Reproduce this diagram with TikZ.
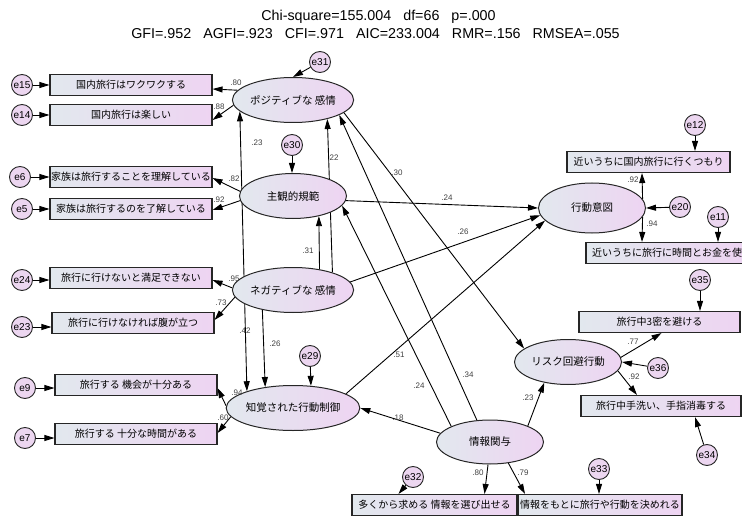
\documentclass[tikz,border=0pt]{standalone}
\usepackage{fontspec}
\setmainfont{Liberation Sans}
\newfontfamily\jp{Noto Sans CJK JP}
\usetikzlibrary{shapes.geometric,arrows.meta,calc}
\pgfdeclarelayer{bg}
\pgfsetlayers{bg,main}
\definecolor{lft}{RGB}{226,232,238}
\definecolor{rgt}{RGB}{238,212,242}
\definecolor{epink}{RGB}{236,214,240}
\tikzset{
 obs/.style={draw=black!85, line width=1.1pt, rectangle, minimum width=162pt, minimum height=21pt, inner sep=0pt, left color=lft, right color=rgt, font=\jp\fontsize{10}{12}\selectfont},
 lat/.style={draw=black!85, line width=1pt, ellipse, minimum width=107pt, minimum height=45pt, inner sep=0pt, left color=lft, right color=rgt, font=\jp\fontsize{10.5}{12}\selectfont},
 err/.style={draw=black!85, line width=0.9pt, circle, minimum size=21pt, inner sep=0pt, fill=epink, font=\fontsize{10}{11}\selectfont},
 arr/.style={-{Triangle[length=10pt,width=6pt]}, line width=0.9pt, black},
 darr/.style={{Triangle[length=10pt,width=6pt]}-{Triangle[length=10pt,width=6pt]}, line width=0.9pt, black},
 coef/.style={font=\fontsize{8}{9}\selectfont, text=black!75, inner sep=0pt},
 ttl/.style={font=\fontsize{14.3}{16}\selectfont, inner sep=0pt},
}
\newcommand{\tgap}{\hspace{12pt}}
\begin{document}
\begin{tikzpicture}[x=1pt,y=-1pt]
\useasboundingbox (0,0) rectangle (742,516);
\clip (0,0) rectangle (742,516);
% title
\node[ttl] (t1) at (378.5,16.5) {Chi-square=155.004\tgap df=66\tgap p=.000};
\node[ttl] (t2) at (375.5,34) {GFI=.952\tgap AGFI=.923\tgap CFI=.971\tgap AIC=233.004\tgap RMR=.156\tgap RMSEA=.055};
% latent
\node[lat] (Pos) at (293,100) {ポジティブな 感情};
\node[lat] (Subj) at (293,196) {主観的規範};
\node[lat] (Neg) at (293,290) {ネガティブな 感情};
\node[lat] (PBC) at (293,408) {知覚された行動制御};
\node[lat, minimum height=50pt] (BI) at (592,208) {行動意図};
\node[lat] (Risk) at (568,362) {リスク回避行動};
\node[lat, minimum height=44pt] (Info) at (490,442) {情報関与};
% observed
\node[obs] (o1) at (131,85) {国内旅行はワクワクする};
\node[obs] (o2) at (131,115) {国内旅行は楽しい};
\node[obs] (o3) at (131,177) {家族は旅行することを理解している};
\node[obs] (o4) at (131,209) {家族は旅行するのを了解している};
\node[obs] (o5) at (131,278) {旅行に行けないと満足できない};
\node[obs] (o6) at (133,323) {旅行に行けなければ腹が立つ};
\node[obs] (o7) at (136,385) {旅行する 機会が十分ある};
\node[obs] (o8) at (136,434) {旅行する 十分な時間がある};
\node[obs, minimum width=165pt] (o9) at (434.5,505) {多くから求める 情報を選び出せる};
\node[obs, minimum width=164pt] (o10) at (600,505) {情報をもとに旅行や行動を決めれる};
\node[obs, minimum width=160pt] (o11) at (661,406) {旅行中手洗い、手指消毒する};
\node[obs, minimum width=161pt] (o12) at (659.5,322) {旅行中3密を避ける};
\node[obs, minimum width=163pt] (o13) at (648.5,162) {近いうちに国内旅行に行くつもり};
\node[obs] (o14) at (667,253) {近いうちに旅行に時間とお金を使};
% errors
\node[err] (e31) at (320,62) {e31};
\node[err] (e15) at (22,85) {e15};
\node[err] (e14) at (22,115) {e14};
\node[err] (e30) at (292,145) {e30};
\node[err] (e6) at (20,177) {e6};
\node[err] (e5) at (22,209) {e5};
\node[err] (e24) at (22,280) {e24};
\node[err] (e23) at (22,327) {e23};
\node[err] (e29) at (310,356) {e29};
\node[err] (e9) at (25,388) {e9};
\node[err] (e7) at (25,438) {e7};
\node[err] (e32) at (413,477) {e32};
\node[err] (e33) at (599,469) {e33};
\node[err] (e34) at (707,455) {e34};
\node[err] (e36) at (658,368) {e36};
\node[err] (e35) at (700,280) {e35};
\node[err] (e20) at (680,207) {e20};
\node[err] (e12) at (695,125) {e12};
\node[err] (e11) at (718,217) {e11};
\begin{pgfonlayer}{bg}
% error arrows
\draw[arr] (e31) -- (Pos.north);
\draw[arr] (e15) -- (o1);
\draw[arr] (e14) -- (o2);
\draw[arr] (e6) -- (o3);
\draw[arr] (e5) -- (o4);
\draw[arr] (e24) -- (e24 -| o5.west);
\draw[arr] (e23) -- (e23 -| o6.west);
\draw[arr] (e9) -- (e9 -| o7.west);
\draw[arr] (e7) -- (e7 -| o8.west);
\draw[arr] (e30) -- (e30 |- Subj.north);
\draw[arr] (e29) -- (PBC.51);
\draw[arr] (e32) -- ($(o9.north)+(-36,0)$);
\draw[arr] (e33) -- (e33 |- o10.north);
\draw[arr] (e34) -- ($(o11.south)+(34,0)$);
\draw[arr] (e36) -- (Risk.east);
\draw[arr] (e35) -- (e35 |- o12.north);
\draw[arr] (e20) -- (BI.east);
\draw[arr] (e12) -- (e12 |- o13.north);
\draw[arr] (e11) -- (e11 |- o14.north);
% loadings
\draw[arr] (Pos.170) -- ($(o1.east)+(0,4)$);
\draw[arr] (Pos.185) -- ($(o2.east)+(0,5)$);
\draw[arr] (Subj.175) -- ($(o3.east)+(0,1)$);
\draw[arr] (Subj.185) -- ($(o4.east)+(0,1)$);
\draw[arr] (Neg.178) -- ($(o5.east)+(0,2)$);
\draw[arr] (Neg.187) -- ($(o6.east)+(0,-3)$);
\draw[arr] (PBC.178) -- ($(o7.east)+(0,3)$);
\draw[arr] (PBC.188) -- ($(o8.east)+(0,-1)$);
\draw[arr] (Info.265) -- ($(o9.north)+(50,0)$);
\draw[arr] (Info.311) -- ($(o10.north)+(-75,0)$);
\draw[arr] (BI.10) -- ($(o13.south)+(-6.5,0)$);
\draw[arr] (BI.-10) -- ($(o14.north)+(-25,0)$);
\draw[arr] (Risk.5) -- ($(o12.south)+(2,0)$);
\draw[arr] (Risk.-10) -- ($(o11.north)+(-24,0)$);
% structural
\draw[arr] (Neg.38) -- (Subj.-38);
\draw[arr] (Neg.24) -- (Pos.-29);
\draw[darr] (Pos.192) -- (PBC.160);
\draw[arr] (Neg.213) -- (PBC.143);
\draw[arr] (Subj.-5) -- (BI.180);
\draw[arr] (Neg.8) -- (BI.188);
\draw[arr] (PBC.15) -- (BI.195);
\draw[arr] (Info.170) -- (PBC.east);
\draw[arr] (Info.23) -- (Risk.221);
\draw[arr] (Info.121) -- (Pos.-18);
\draw[arr] (Pos.-14) -- (Risk.163);
\draw[arr] (Info.158) -- (Subj.-11);
\end{pgfonlayer}
% coefficients
\node[coef] (c1) at (236,83) {.80};
\node[coef] (c2) at (219,107) {.88};
\node[coef] (c3) at (234,179) {.82};
\node[coef] (c4) at (219,200) {.92};
\node[coef] (c5) at (234,279) {.95};
\node[coef] (c6) at (221,303) {.73};
\node[coef] (c7) at (237,393) {.94};
\node[coef] (c8) at (223,418) {.60};
\node[coef] (c9) at (478,473) {.80};
\node[coef] (c10) at (523,473) {.79};
\node[coef] (c11) at (633,180) {.92};
\node[coef] (c12) at (652,224) {.94};
\node[coef] (c13) at (633,342) {.77};
\node[coef] (c14) at (634,377) {.92};
\node[coef] (c15) at (257,143) {.23};
\node[coef] (c16) at (333,158) {.22};
\node[coef] (c17) at (308,251) {.31};
\node[coef] (c18) at (245,331) {.42};
\node[coef] (c19) at (275,344) {.26};
\node[coef] (c20) at (447,198) {.24};
\node[coef] (c21) at (463,232) {.26};
\node[coef] (c22) at (397,173) {.30};
\node[coef] (c23) at (399,355) {.51};
\node[coef] (c24) at (419,386) {.24};
\node[coef] (c25) at (468,375) {.34};
\node[coef] (c26) at (398,418) {.18};
\node[coef] (c27) at (528,398) {.23};
\end{tikzpicture}
\end{document}
